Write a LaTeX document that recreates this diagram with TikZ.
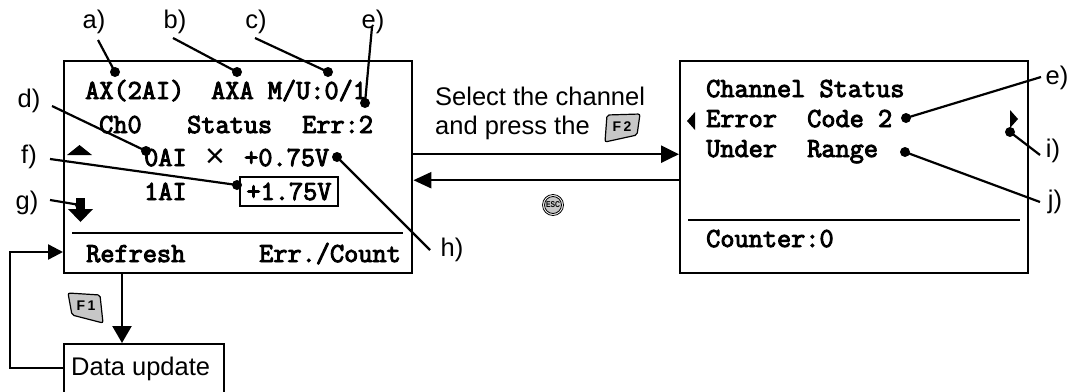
\documentclass[tikz,border=0pt]{standalone}
\usepackage{fontspec}
\setmainfont{Liberation Sans}
\newfontfamily\lcd[FakeBold=3.5]{Latin Modern Mono}
\usetikzlibrary{arrows.meta}
\begin{document}
\begin{tikzpicture}[x=1pt,y=-1pt,
  box/.style={draw, line width=2.4pt, inner sep=0, anchor=north west, minimum width=348pt, minimum height=212pt},
  lcdfont/.style={font=\lcd\fontsize{27.5}{27.5}\selectfont},
  lcdtxt/.style={lcdfont, inner sep=0, anchor=base west},
  lbl/.style={font=\fontsize{25.5}{26}\selectfont, inner sep=0},
  dot/.style={circle, fill, minimum size=10pt, inner sep=0},
  ptr/.style={line width=2.2pt},
  arr/.style={line width=2.4pt, -{Triangle[length=18pt,width=17pt]}},
  key/.style={fill=black!22, draw, line width=1.2pt, rounded corners=2pt},
  keytxt/.style={font=\bfseries\fontsize{14}{14}\selectfont, inner sep=0},
  sep/.style={line width=2pt},
]
\useasboundingbox (0,0) rectangle (1073,391);

% ---------- left screen ----------
\node[box] (s1) at (63,59.5) {};
\draw[sep] (72,233) -- (403,233);
\node[lcdtxt] (t1) at (85,99) {AX(2AI)};
\node[lcdtxt] (t2) at (211,99) {AXA M/U:0/1};
\node[lcdtxt] (t3) at (99,133) {Ch0};
\node[lcdtxt] (t4) at (187,133) {Status};
\node[lcdtxt] (t5) at (302,133) {Err:2};
\node[lcdtxt] (t6) at (144,166) {0AI};
\node[font=\fontsize{34}{34}\selectfont, inner sep=0] (tx) at (215,158) {×};
\node[lcdtxt] (t7) at (244,166) {+0.75V};
\node[lcdtxt] (t8) at (144,200) {1AI};
\node[lcdfont, draw, line width=1.6pt, inner sep=0,
      minimum width=98pt, minimum height=29pt] (t9) at (289,191.5) {+1.75V};
\node[lcdtxt] (t10) at (86,262) {Refresh};
\node[lcdtxt] (t11) at (259,262) {Err./Count};
\fill (67,155) -- (92,155) -- (79.5,145) -- cycle;
\fill (76,198) rectangle (85,210);
\fill (68,209) -- (93,209) -- (80.5,222) -- cycle;

% ---------- right screen ----------
\node[box] (s2) at (679,59.5) {};
\draw[sep] (688,220) -- (1020,220);
\node[lcdtxt] (r1) at (706,97) {Channel Status};
\node[lcdtxt] (r2) at (706,127) {Error};
\node[lcdtxt] (r3) at (807,127) {Code 2};
\node[lcdtxt] (r4) at (706,157) {Under};
\node[lcdtxt] (r5) at (807,157) {Range};
\node[lcdtxt] (r6) at (706,247) {Counter:0};
\fill (687,121) -- (695,112) -- (695,130) -- cycle;
\fill (1018,119) -- (1010,110) -- (1010,128) -- cycle;

% ---------- transitions ----------
\draw[arr] ([yshift=12.5pt]s1.east) -- ([yshift=12.5pt]s2.west);
\draw[arr, -{Triangle[length=18pt,width=16pt]}] ([yshift=-13.5pt]s2.west) -- ([yshift=-13.5pt]s1.east);
\node[lbl, anchor=base west] (sel1) at (435,105) {Select the channel};
\node[lbl, anchor=base west] (sel2) at (435,134) {and press the};
\draw[key] (607,115) -- (640,114) -- (637,135) -- (605,142) -- cycle;
\node[keytxt] (kf2) at (622,127) {F\,2};
\draw[line width=0.8pt] (553,205) circle (10.5);
\filldraw[fill=black!22, line width=0.8pt] (553,205) circle (8.5);
\node[font=\bfseries\fontsize{8.5}{8.5}\selectfont, inner sep=0, xscale=0.8] (kesc) at (553,205) {ESC};

% ---------- data update ----------
\begin{scope}
\clip (0,0) rectangle (1073,391);
\node[draw, line width=2.4pt, anchor=north west, minimum width=160pt, minimum height=60pt, inner sep=0] (du) at (63,343) {};
\end{scope}
\node[lbl, anchor=base west] (dut) at (71,375) {Data update};
\draw[line width=2.4pt, -{Triangle[length=17pt,width=19pt]}] (s1.south -| 122,0) -- (du.north -| 122,0);
\draw[key] (68,293) -- (100,295) -- (103,323) -- (72,315) -- cycle;
\node[keytxt] (kf1) at (86,306) {F\,1};
\coordinate (lp1) at (10,368);
\coordinate (lp2) at (10,252);
\draw[line width=2.4pt, -{Triangle[length=15pt,width=15pt]}] (du.west |- 0,368) -- (lp1) -- (lp2) -- (s1.west |- 0,252);

% ---------- callouts ----------
\node[lbl] (la) at (94,22) {a)};
\node[lbl] (lb) at (175,22) {b)};
\node[lbl] (lc) at (256,22) {c)};
\node[lbl] (le) at (373,22) {e)};
\node[lbl] (ld) at (29,101) {d)};
\node[lbl] (lf) at (29,157) {f)};
\node[lbl] (lg) at (27,203) {g)};
\node[lbl] (lh) at (452,250) {h)};
\node[lbl] (le2) at (1057,78) {e)};
\node[lbl] (li) at (1053,151) {i)};
\node[lbl] (lj) at (1055,202) {j)};

\node[dot] (da) at (115,72) {};
\node[dot] (db) at (237,72) {};
\node[dot] (dc) at (328,72) {};
\node[dot] (de) at (365,103) {};
\node[dot] (dd) at (146,151) {};
\node[dot] (df) at (237,185) {};
\node[dot] (dg) at (80,205) {};
\node[dot] (dh) at (337,157) {};
\node[dot] (de2) at (906,118) {};
\node[dot] (di) at (1010,132) {};
\node[dot] (dj) at (905,152) {};

\coordinate (pa) at (98,40);
\coordinate (pb) at (173,38);
\coordinate (pc) at (255,38);
\coordinate (pe) at (372,27);
\coordinate (pd) at (52,106);
\coordinate (pf) at (50,159);
\coordinate (pg) at (50,200);
\coordinate (ph) at (430,250);
\coordinate (pe2) at (1041,77);
\coordinate (pi) at (1040,155);
\coordinate (pj) at (1040,202);

\draw[ptr] (pa) -- (da.center);
\draw[ptr] (pb) -- (db.center);
\draw[ptr] (pc) -- (dc.center);
\draw[ptr] (pe) -- (de.center);
\draw[ptr] (pd) -- (dd.center);
\draw[ptr] (pf) -- (df.center);
\draw[ptr] (pg) -- (dg.center);
\draw[ptr] (ph) -- (dh.center);
\draw[ptr] (pe2) -- (de2.center);
\draw[ptr] (pi) -- (di.center);
\draw[ptr] (pj) -- (dj.center);
\end{tikzpicture}
\end{document}
